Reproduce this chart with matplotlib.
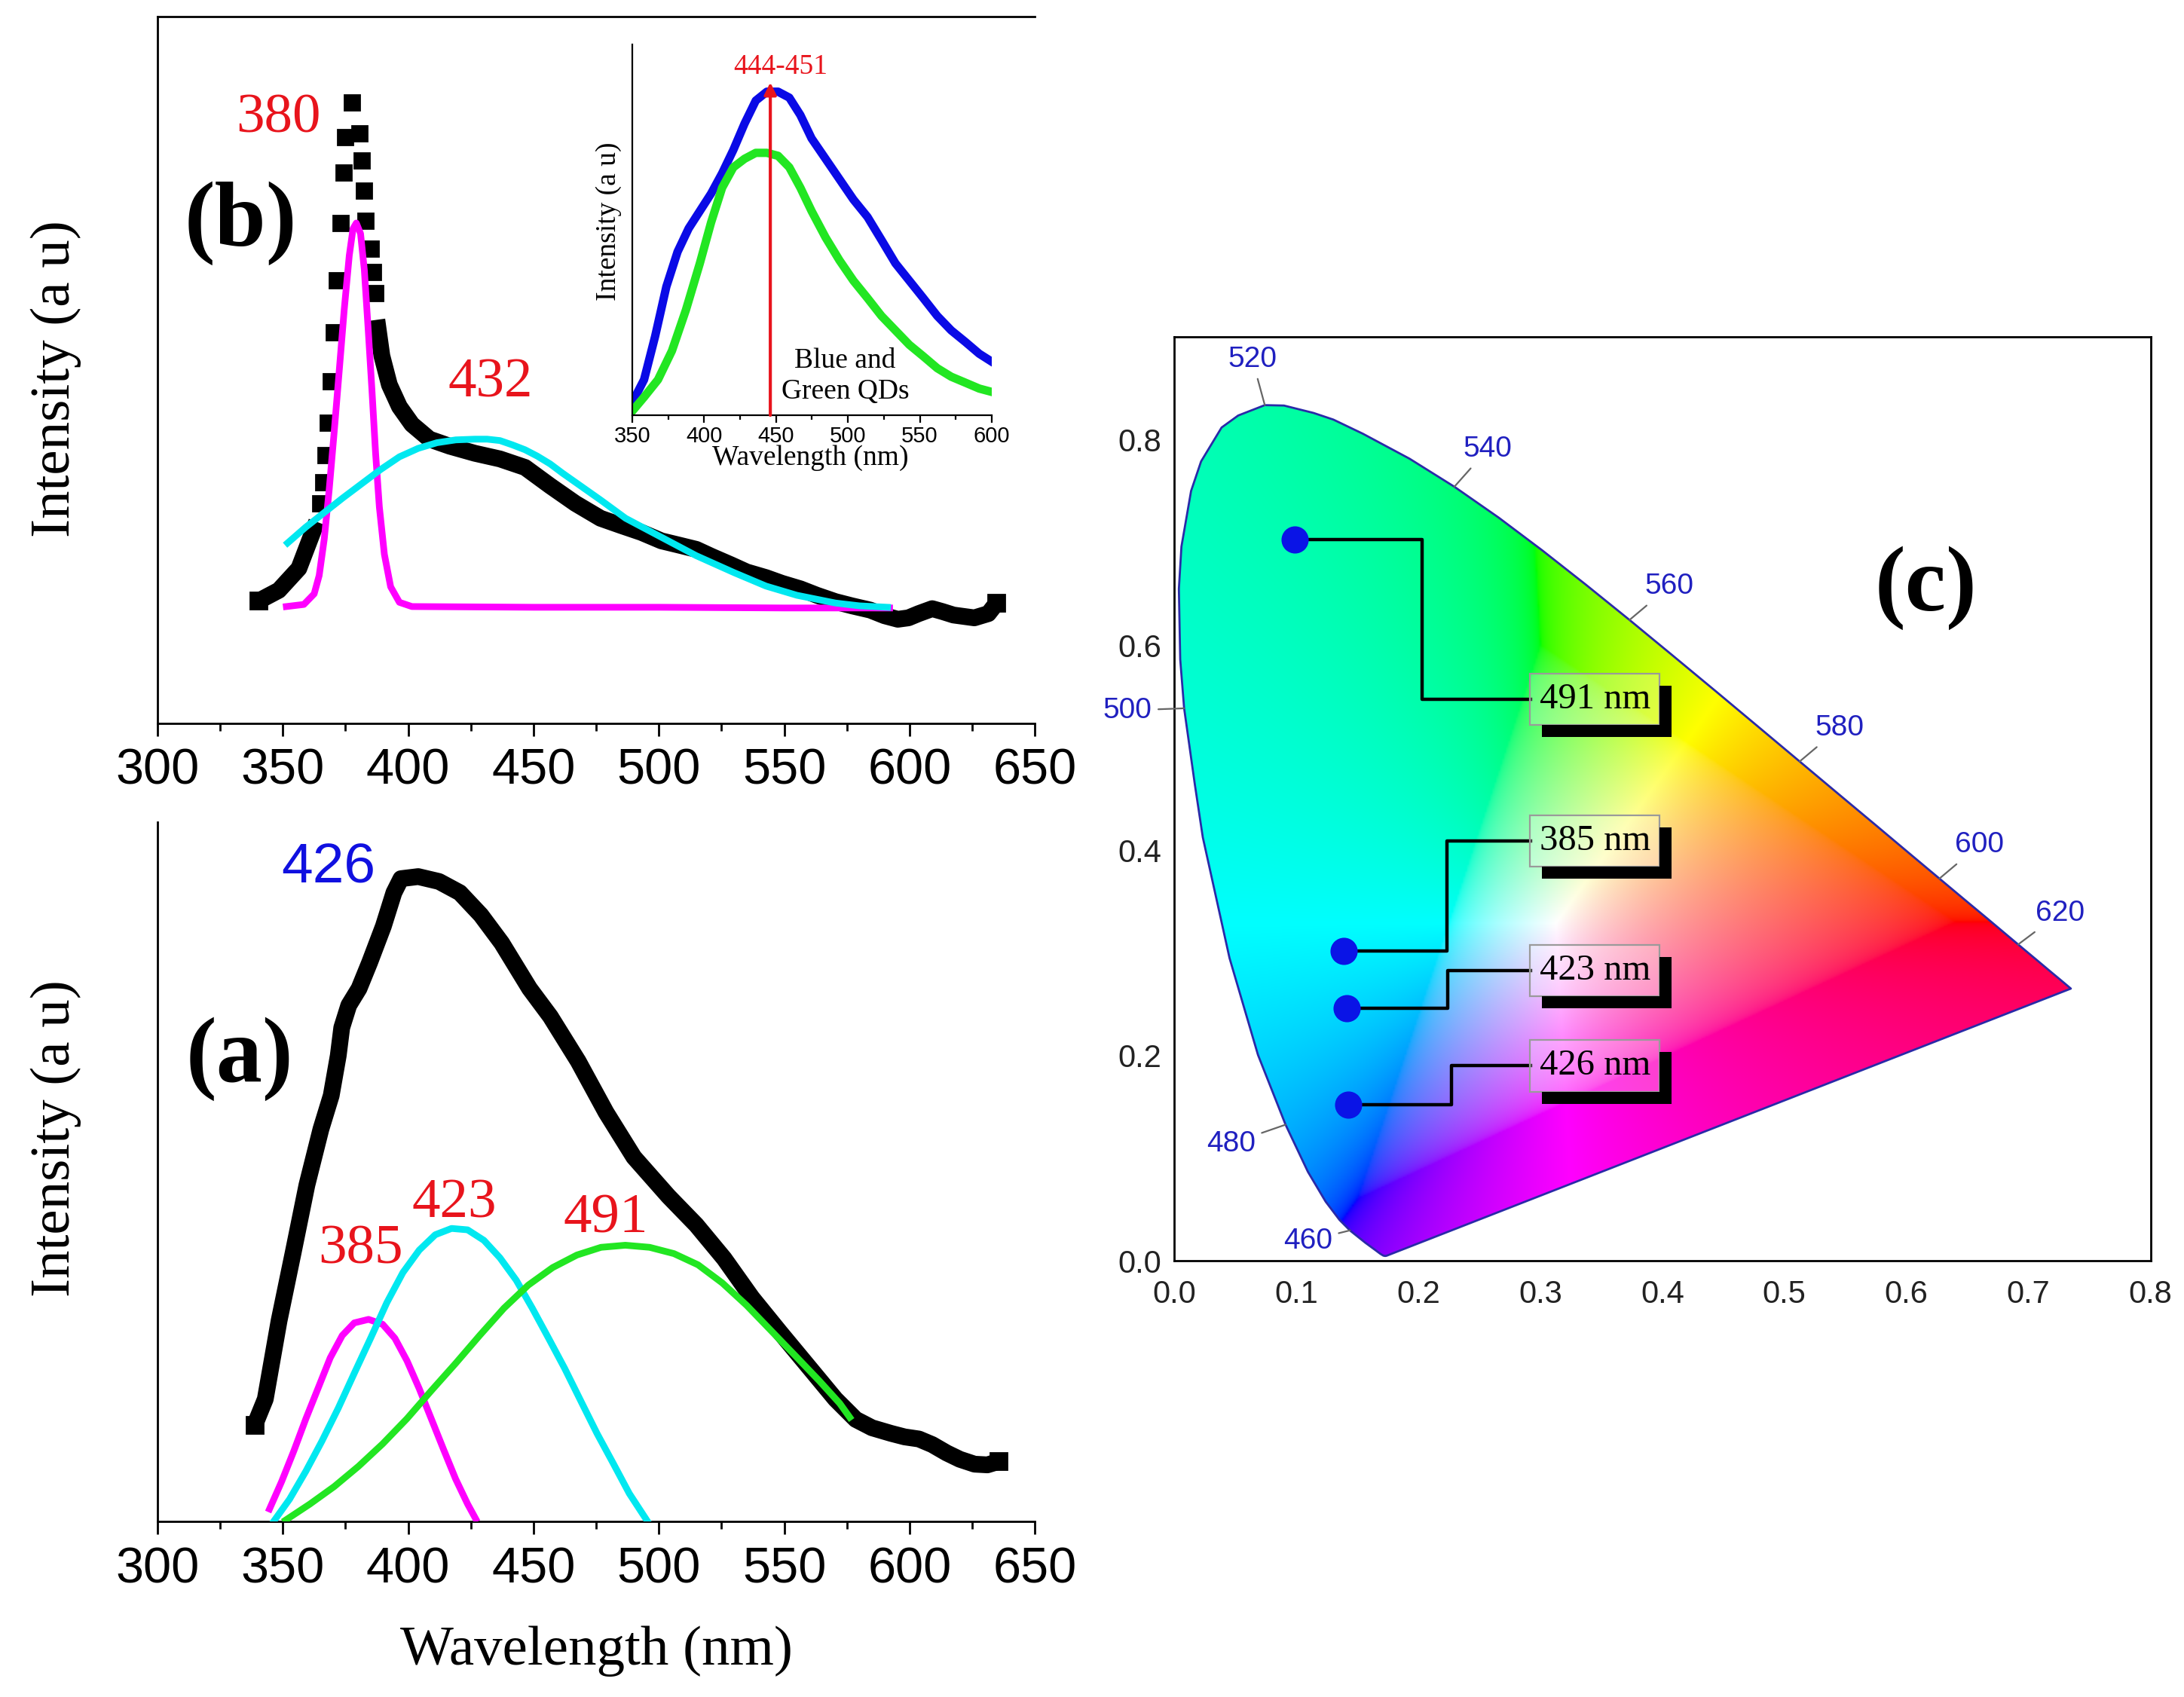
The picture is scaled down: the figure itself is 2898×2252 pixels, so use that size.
import numpy as np
import matplotlib.pyplot as plt
from matplotlib.patches import Polygon, Rectangle
from matplotlib.ticker import MultipleLocator
from matplotlib.transforms import IdentityTransform

SERIF = 'Liberation Serif'
SANS = 'Liberation Sans'

# ---- panel (b): emission of the mixed sample ----
b_wl = [340.4, 348.4, 356.4, 363.5, 365.0, 366.0, 367.0, 368.0, 369.0, 370.5,
        371.5, 373.0, 374.3, 375.0, 377.7, 380.5, 381.5, 382.3, 383.0, 385.0,
        386.0, 387.0, 387.5, 389.5, 392.5, 396.5, 401.5, 408.5, 416.6, 426.6,
        436.6, 446.6, 456.6, 466.7, 476.7, 484.7, 493.0, 501.0, 508.0, 514.9,
        521.0, 528.8, 535.0, 542.7, 549.0, 556.5, 563.0, 570.4, 577.0, 584.3,
        590.0, 595.3, 599.5, 603.6, 609.0, 613.0, 617.5, 625.8, 631.4, 634.7]
b_int = [0.173, 0.188, 0.219, 0.285, 0.311, 0.341, 0.379, 0.425, 0.484, 0.553,
         0.627, 0.708, 0.779, 0.830, 0.879, 0.835, 0.797, 0.754, 0.711, 0.672,
         0.639, 0.609, 0.571, 0.520, 0.479, 0.448, 0.423, 0.402, 0.392, 0.382,
         0.374, 0.362, 0.336, 0.311, 0.290, 0.280, 0.270, 0.258, 0.252, 0.246,
         0.236, 0.224, 0.214, 0.206, 0.198, 0.190, 0.181, 0.172, 0.166, 0.160,
         0.152, 0.147, 0.149, 0.155, 0.162, 0.158, 0.153, 0.149, 0.155, 0.170]

b_fit1_wl = [351.4, 358.4, 362.5, 364.5, 366.5, 368.5, 370.5, 372.5, 374.5,
             376.5, 378.0, 379.3, 381.0, 382.5, 384.0, 385.5, 387.0, 388.5,
             390.5, 393.0, 396.5, 401.5, 450.0, 500.0, 550.0, 592.0]
b_fit1_int = [0.165, 0.168, 0.183, 0.209, 0.260, 0.331, 0.413, 0.499, 0.586,
              0.662, 0.700, 0.708, 0.693, 0.642, 0.560, 0.474, 0.382, 0.306,
              0.239, 0.193, 0.171, 0.165, 0.164, 0.164, 0.163, 0.163]

b_fit2_wl = [351.9, 359.0, 366.5, 374.0, 381.5, 389.0, 396.5, 404.0, 411.5,
             419.0, 426.6, 431.5, 436.6, 441.5, 446.6, 451.5, 456.6, 461.5,
             466.7, 476.7, 486.7, 500.0, 514.9, 530.0, 542.7, 555.0, 570.4,
             580.0, 591.2]
b_fit2_int = [0.255, 0.277, 0.298, 0.319, 0.339, 0.359, 0.377, 0.389, 0.397,
              0.401, 0.402, 0.402, 0.400, 0.394, 0.387, 0.378, 0.367, 0.354,
              0.341, 0.316, 0.290, 0.265, 0.237, 0.213, 0.194, 0.181, 0.170,
              0.166, 0.164]

# ---- inset: blue and green QDs ----
in_wl = [350.4, 358.2, 365.9, 373.7, 381.5, 389.2, 397.0, 404.8, 412.5, 420.3,
         428.1, 435.9, 443.6, 451.4, 459.2, 466.9, 474.7, 484.4, 494.1, 503.8,
         513.6, 523.3, 533.0, 542.7, 552.4, 562.1, 571.8, 581.6, 591.3, 599.0]
in_blue = [0.037, 0.096, 0.213, 0.347, 0.441, 0.504, 0.551, 0.598, 0.653, 0.716,
           0.787, 0.849, 0.873, 0.873, 0.857, 0.810, 0.747, 0.692, 0.637, 0.582,
           0.535, 0.473, 0.410, 0.363, 0.316, 0.268, 0.229, 0.198, 0.166, 0.147]
in_green_wl = [350.4, 358.2, 367.9, 377.6, 387.3, 397.0, 404.8, 412.5, 420.3,
               428.1, 435.9, 443.6, 451.4, 459.2, 466.9, 474.7, 484.4, 494.1,
               503.8, 513.6, 523.3, 533.0, 542.7, 552.4, 562.1, 571.8, 581.6,
               591.3, 599.0]
in_green = [0.013, 0.049, 0.096, 0.174, 0.284, 0.410, 0.520, 0.614, 0.669,
            0.692, 0.708, 0.708, 0.700, 0.669, 0.614, 0.551, 0.480, 0.418,
            0.363, 0.316, 0.268, 0.229, 0.190, 0.159, 0.127, 0.104, 0.088,
            0.072, 0.064]
inset_peak_wl = 446

# ---- panel (a): emission with three fitted components ----
a_wl = [338.8, 343.0, 348.5, 354.1, 359.6, 365.2, 369.3, 372.1, 373.5, 376.3,
        380.4, 384.6, 390.1, 394.3, 397.1, 404.0, 412.3, 420.6, 429.0, 437.3,
        448.4, 456.7, 467.8, 478.9, 490.0, 503.8, 514.9, 526.0, 537.1, 548.2,
        559.3, 570.4, 578.5, 585.0, 592.6, 598.0, 603.7, 609.0, 614.8, 620.0,
        625.9, 631.0, 635.6]
a_int = [0.138, 0.175, 0.287, 0.384, 0.481, 0.561, 0.609, 0.666, 0.706, 0.738,
         0.762, 0.799, 0.851, 0.899, 0.919, 0.922, 0.915, 0.899, 0.867, 0.827,
         0.762, 0.722, 0.658, 0.585, 0.521, 0.465, 0.424, 0.376, 0.320, 0.271,
         0.223, 0.175, 0.146, 0.134, 0.126, 0.121, 0.118, 0.110, 0.098, 0.089,
         0.082, 0.081, 0.086]

a_fit1_wl = [344.7, 349.5, 354.4, 359.2, 364.0, 368.9, 373.7, 378.5, 384.2,
             389.8, 394.7, 399.5, 404.4, 409.2, 414.0, 418.9, 423.7, 426.9]
a_fit1_int = [0.018, 0.057, 0.101, 0.147, 0.190, 0.234, 0.266, 0.284, 0.289,
              0.282, 0.262, 0.230, 0.190, 0.147, 0.104, 0.061, 0.025, 0.004]

a_fit2_wl = [346.3, 352.7, 359.2, 365.6, 372.1, 378.5, 385.0, 391.5, 397.9,
             404.4, 410.8, 417.3, 423.7, 430.2, 436.6, 443.1, 449.5, 456.0,
             462.4, 468.9, 475.3, 481.8, 488.2, 495.5]
a_fit2_int = [0.0, 0.032, 0.072, 0.115, 0.162, 0.212, 0.262, 0.313, 0.356,
              0.388, 0.410, 0.419, 0.417, 0.402, 0.377, 0.345, 0.305, 0.262,
              0.219, 0.172, 0.126, 0.083, 0.040, 0.0]

a_fit3_wl = [351.1, 360.8, 370.5, 380.2, 389.8, 399.5, 409.2, 418.9, 428.5,
             438.2, 447.9, 457.6, 467.3, 476.9, 486.6, 496.3, 506.0, 515.6,
             525.3, 535.0, 544.7, 554.4, 564.0, 572.1, 576.1]
a_fit3_int = [0.002, 0.025, 0.050, 0.079, 0.111, 0.147, 0.187, 0.226, 0.266,
              0.305, 0.338, 0.363, 0.381, 0.392, 0.395, 0.392, 0.383, 0.367,
              0.341, 0.309, 0.273, 0.237, 0.201, 0.169, 0.149]

# ---- panel (c): CIE 1931 spectral locus and sample points ----
cie_wl = [380, 400, 410, 420, 430, 440, 450, 460, 465, 470, 475, 480, 485, 490,
          495, 497, 500, 502, 505, 507, 510, 512, 515, 517, 520, 522, 525, 527,
          530, 535, 540, 545, 550, 555, 560, 565, 570, 575, 580, 585, 590, 595,
          600, 605, 610, 620, 630, 640, 650, 700]
cie_x = [0.1741, 0.1733, 0.1726, 0.1714, 0.1689, 0.1644, 0.1566, 0.1440, 0.1355,
         0.1241, 0.1096, 0.0913, 0.0687, 0.0454, 0.0235, 0.0170, 0.0082, 0.0050,
         0.0039, 0.0060, 0.0139, 0.0221, 0.0389, 0.0525, 0.0743, 0.0900, 0.1142,
         0.1305, 0.1547, 0.1929, 0.2296, 0.2658, 0.3016, 0.3373, 0.3731, 0.4087,
         0.4441, 0.4788, 0.5125, 0.5448, 0.5752, 0.6029, 0.6270, 0.6482, 0.6658,
         0.6915, 0.7079, 0.7190, 0.7260, 0.7347]
cie_y = [0.0050, 0.0048, 0.0048, 0.0051, 0.0069, 0.0109, 0.0177, 0.0297, 0.0399,
         0.0578, 0.0868, 0.1327, 0.2007, 0.2950, 0.4127, 0.4640, 0.5384, 0.5860,
         0.6548, 0.6960, 0.7502, 0.7790, 0.8120, 0.8237, 0.8338, 0.8334, 0.8262,
         0.8197, 0.8059, 0.7816, 0.7543, 0.7243, 0.6923, 0.6589, 0.6245, 0.5896,
         0.5547, 0.5202, 0.4866, 0.4544, 0.4242, 0.3965, 0.3725, 0.3514, 0.3340,
         0.3083, 0.2920, 0.2809, 0.2740, 0.2653]
locus_labels = [460, 480, 500, 520, 540, 560, 580, 600, 620]

pt_labels = ['491 nm', '385 nm', '423 nm', '426 nm']
pt_x = [0.0988, 0.1388, 0.1416, 0.1428]
pt_y = [0.703, 0.302, 0.246, 0.152]

fig = plt.figure(figsize=(14.49, 11.26), dpi=200)


def spectrum_axes(rect, top_spine):
    ax = fig.add_axes(rect)
    ax.set_xlim(300, 650)
    ax.set_ylim(0, 1)
    ax.spines['right'].set_visible(False)
    ax.spines['top'].set_visible(top_spine)
    for s in ax.spines.values():
        s.set_linewidth(1.0)
    ax.set_yticks([])
    ax.xaxis.set_major_locator(MultipleLocator(50))
    ax.xaxis.set_minor_locator(MultipleLocator(25))
    ax.tick_params(axis='x', which='major', direction='out', length=6, width=1,
                   pad=6, labelsize=24)
    ax.tick_params(axis='x', which='minor', direction='out', length=3.5, width=1)
    for lab in ax.get_xticklabels():
        lab.set_family(SANS)
    return ax


# (b)
ax_b = spectrum_axes([0.0721, 0.5739, 0.4018, 0.4162], True)
b_wl_arr = np.array(b_wl)
b_int_arr = np.array(b_int)
steep = (b_wl_arr > 364) & (b_wl_arr < 387.2)
ax_b.plot(b_wl_arr, np.where(steep, np.nan, b_int_arr), color='black', lw=8,
          solid_capstyle='butt', solid_joinstyle='round', zorder=2)
ax_b.plot(b_wl_arr[steep], b_int_arr[steep], 's', color='black', ms=7, zorder=2)
ax_b.plot(b_wl_arr[[0, -1]], b_int_arr[[0, -1]], 's', color='black', ms=8,
          zorder=2)
ax_b.plot(b_fit1_wl, b_fit1_int, color='#ff00ff', lw=3.2, zorder=3)
ax_b.plot(b_fit2_wl, b_fit2_int, color='#00e8f0', lw=3.2, zorder=3)
ax_b.text(348.3, 0.856, '380', color='#e8141c', fontsize=27, family=SERIF,
          ha='center', va='center')
ax_b.text(432.8, 0.481, '432', color='#e8141c', fontsize=27, family=SERIF,
          ha='center', va='center')
ax_b.text(333.3, 0.708, '(b)', fontsize=44, fontweight='bold', family=SERIF,
          ha='center', va='center')

# inset
ax_in = fig.add_axes([0.2895, 0.7553, 0.1646, 0.2184])
ax_in.set_facecolor('none')
ax_in.set_xlim(350, 600)
ax_in.set_ylim(0, 1)
ax_in.spines['right'].set_visible(False)
ax_in.spines['top'].set_visible(False)
ax_in.set_yticks([])
ax_in.xaxis.set_major_locator(MultipleLocator(50))
ax_in.xaxis.set_minor_locator(MultipleLocator(25))
ax_in.tick_params(axis='x', which='major', length=3.5, width=0.8, pad=1.5,
                  labelsize=10.5)
ax_in.tick_params(axis='x', which='minor', length=2, width=0.8)
for lab in ax_in.get_xticklabels():
    lab.set_family(SANS)
ax_in.plot(in_wl, in_blue, color='#0a0ae6', lw=4, solid_joinstyle='round')
ax_in.plot(in_green_wl, in_green, color='#22e622', lw=4, solid_joinstyle='round')
ax_in.annotate('', xy=(inset_peak_wl, 0.898), xytext=(inset_peak_wl, 0.0),
               arrowprops=dict(arrowstyle='-|>', color='#e8141c', lw=1.5,
                               mutation_scale=12, shrinkA=0, shrinkB=0))
ax_in.text(453.3, 0.94, '444-451', color='#e8141c', fontsize=13.5, family=SERIF,
           ha='center', va='center')
ax_in.text(498, 0.106, 'Blue and\nGreen QDs', fontsize=13.5, family=SERIF,
           ha='center', va='center', linespacing=1.25)
fig.text(0.2787, 0.8695, 'Intensity (a u)', rotation=90, fontsize=13.5,
         family=SERIF, ha='center', va='center')
fig.text(0.3712, 0.730, 'Wavelength (nm)', fontsize=13.5, family=SERIF,
         ha='center', va='center')

# (a)
ax_a = spectrum_axes([0.0721, 0.1034, 0.4018, 0.4122], False)
ax_a.plot(a_wl, a_int, color='black', lw=8, solid_capstyle='butt',
          solid_joinstyle='round', zorder=2)
ax_a.plot([a_wl[0], a_wl[-1]], [a_int[0], a_int[-1]], 's', color='black', ms=8,
          zorder=2)
ax_a.plot(a_fit1_wl, a_fit1_int, color='#ff00ff', lw=3.2, zorder=3)
ax_a.plot(a_fit2_wl, a_fit2_int, color='#00e8f0', lw=3.2, zorder=3)
ax_a.plot(a_fit3_wl, a_fit3_int, color='#22e622', lw=3.2, zorder=3)
ax_a.text(368.3, 0.934, '426', color='#1010e0', fontsize=27, family=SANS,
          ha='center', va='center')
for txt, x, y in [('385', 381.1, 0.388), ('423', 418.3, 0.454),
                  ('491', 478.9, 0.432)]:
    ax_a.text(x, y, txt, color='#e8141c', fontsize=27, family=SERIF,
              ha='center', va='center')
ax_a.text(332.8, 0.661, '(a)', fontsize=44, fontweight='bold', family=SERIF,
          ha='center', va='center')

fig.text(0.0255, 0.7767, 'Intensity (a u)', rotation=90, fontsize=27,
         family=SERIF, ha='center', va='center')
fig.text(0.0255, 0.3292, 'Intensity (a u)', rotation=90, fontsize=27,
         family=SERIF, ha='center', va='center')
fig.text(0.273, 0.0271, 'Wavelength (nm)', fontsize=27, family=SERIF,
         ha='center', va='center')

# (c) chromaticity diagram
ax_c = fig.add_axes([0.5376, 0.2570, 0.4471, 0.5443])
ax_c.set_xlim(0, 0.8)
ax_c.set_ylim(0, 0.9)
ax_c.set_xticks(np.arange(0, 0.81, 0.1))
ax_c.set_yticks(np.arange(0, 0.81, 0.2))
ax_c.xaxis.set_major_formatter('{x:.1f}')
ax_c.yaxis.set_major_formatter('{x:.1f}')
ax_c.tick_params(length=0, labelsize=15, colors='#222222')
ax_c.tick_params(axis='x', pad=9)
ax_c.tick_params(axis='y', pad=6)
for lab in ax_c.get_xticklabels() + ax_c.get_yticklabels():
    lab.set_family(SANS)
for s in ax_c.spines.values():
    s.set_linewidth(1.0)

# background colours of the horseshoe: xy -> linear sRGB, out-of-gamut
# colours pulled toward white, then scaled to full brightness
gx = np.linspace(0.0, 0.8, 500)
gy = np.linspace(0.0, 0.9, 560)
GX, GY = np.meshgrid(gx, gy)
GYs = np.maximum(GY, 1e-3)
Xv = GX / GYs
Zv = (1 - GX - GY) / GYs
r = 3.2406 * Xv - 1.5372 - 0.4986 * Zv
g = -0.9689 * Xv + 1.8758 + 0.0415 * Zv
bl = 0.0557 * Xv - 0.2040 + 1.0570 * Zv
rgb = np.stack([r, g, bl], axis=-1)
rgb = rgb - np.minimum(rgb.min(axis=-1, keepdims=True), 0)
rgb = rgb / (rgb.max(axis=-1, keepdims=True) + 1e-9)
rgb = np.clip(rgb, 0, 1) ** (1 / 2.2)
im = ax_c.imshow(rgb, extent=[0, 0.8, 0, 0.9], origin='lower', aspect='auto',
                 interpolation='bilinear', zorder=1)
locus = Polygon(np.column_stack([cie_x, cie_y]), closed=True, facecolor='none',
                edgecolor='#2a2aa8', lw=1.0, joinstyle='round', zorder=2)
ax_c.add_patch(locus)
im.set_clip_path(locus)

label_offsets = {460: (-20, -5), 480: (-26, -9), 500: (-27, -1), 520: (-6, 22),
                 540: (16, 18), 560: (19, 16), 580: (19, 16), 600: (19, 16),
                 620: (20, 15)}
for wl in locus_labels:
    i = cie_wl.index(wl)
    ax_c.annotate(str(wl), xy=(cie_x[i], cie_y[i]), xytext=label_offsets[wl],
                  textcoords='offset points', ha='center', va='center',
                  color='#2020c0', fontsize=14, family=SANS,
                  arrowprops=dict(arrowstyle='-', color='#666666', lw=0.8,
                                  shrinkA=1, shrinkB=0), zorder=3)

# leader layout: knee x and box centre y for each point
knee_x = [0.2033, 0.2233, 0.2244, 0.2273]
box_y = [0.547, 0.409, 0.283, 0.190]
box_left = 0.2918
box_texts = []
for lab, x, y, kx, by in zip(pt_labels, pt_x, pt_y, knee_x, box_y):
    ax_c.plot([x, kx, kx, box_left], [y, y, by, by], color='black', lw=1.6,
              zorder=4)
    t = ax_c.text(box_left + 0.0074, by, lab, fontsize=17.5, family=SERIF,
                  ha='left', va='center', zorder=6,
                  bbox=dict(boxstyle='square,pad=0.25', facecolor=(1, 1, 1, 0.25),
                            edgecolor='#9a9a9a', lw=0.8))
    box_texts.append(t)
ax_c.plot(pt_x, pt_y, 'o', color='#0a14e6', ms=12, zorder=5)
ax_c.text(0.616, 0.656, '(c)', fontsize=44, fontweight='bold', family=SERIF,
          ha='center', va='center', zorder=6)

# drop shadows of the label boxes (L-shaped, lower right)
fig.canvas.draw()
renderer = fig.canvas.get_renderer()
off = 16
for t in box_texts:
    bb = t.get_bbox_patch().get_window_extent(renderer)
    fig.add_artist(Rectangle((bb.x0 + off, bb.y0 - off), bb.width, off,
                             facecolor='black', edgecolor='none',
                             transform=IdentityTransform(), zorder=5))
    fig.add_artist(Rectangle((bb.x1, bb.y0 - off), off, bb.height,
                             facecolor='black', edgecolor='none',
                             transform=IdentityTransform(), zorder=5))

fig.savefig('out.png', dpi=200)
